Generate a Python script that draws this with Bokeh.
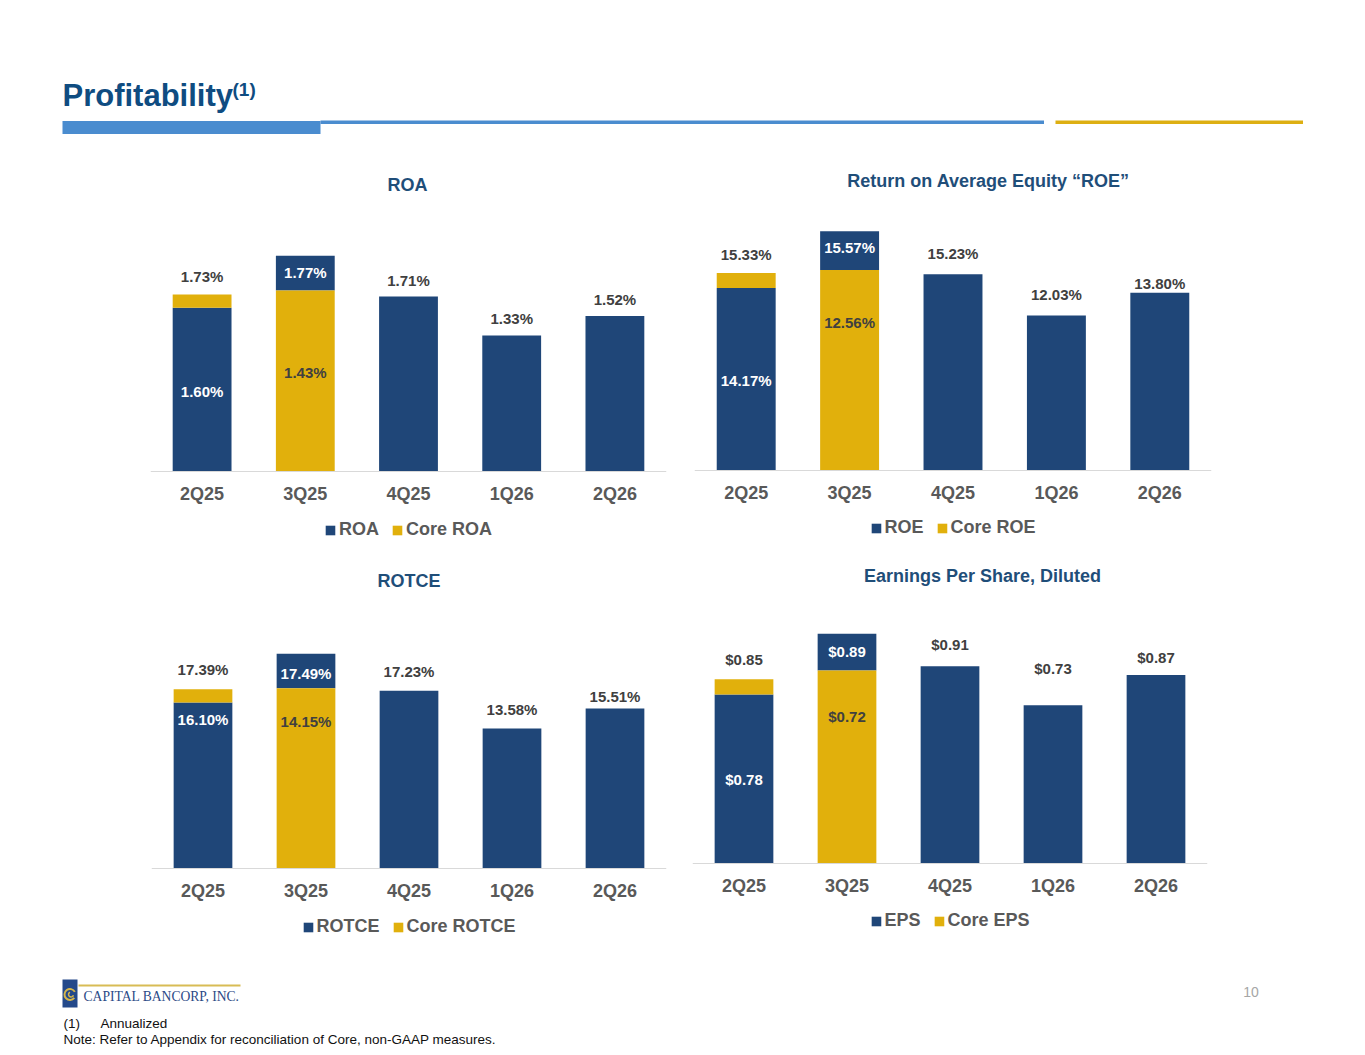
from bokeh.plotting import figure
from bokeh.models import ColumnDataSource, FactorRange, Range1d, Legend, LegendItem
from bokeh.layouts import column, row
from bokeh.embed import file_html
from bokeh.resources import INLINE
from bokeh.core.properties import value

# ---------------- data ----------------
quarters = ["2Q25", "3Q25", "4Q25", "1Q26", "2Q26"]

roa = [1.60, 1.77, 1.71, 1.33, 1.52]
core_roa = [1.73, 1.43, None, None, None]

roe = [14.17, 15.57, 15.23, 12.03, 13.80]
core_roe = [15.33, 12.56, None, None, None]

rotce = [16.10, 17.49, 17.23, 13.58, 15.51]
core_rotce = [17.39, 14.15, None, None, None]

eps = [0.78, 0.89, 0.91, 0.73, 0.87]
core_eps = [0.85, 0.72, None, None, None]

# ---------------- style ----------------
BLUE = "#1F4678"
GOLD = "#E1B00C"
TITLE_BLUE = "#0F4C81"
CHART_TITLE = "#1F4E79"
LIGHT_BLUE = "#4A8CCF"
DARK = "#404040"
AXIS_TXT = "#595959"
SANS = "Liberation Sans"
FONT = value(SANS)


def pct(v):
    return f"{v:.2f}%"


def usd(v):
    return f"${v:.2f}"


def chart(title, main, core, main_name, core_name, fmt, g):
    width = g["fig_right"] - g["fig_left"]
    height = g["fig_bottom"] - g["fig_top"]
    ppu = g["ppu"]
    y_end = (g["baseline"] - g["frame_top"]) / ppu
    y_start = -(g["fig_bottom"] - g["baseline"]) / ppu
    p = figure(width=width, height=height,
               x_range=FactorRange(*quarters), y_range=Range1d(y_start, y_end),
               y_axis_type=None, output_backend="svg", toolbar_location=None,
               min_border_left=g["frame_left"] - g["fig_left"],
               min_border_right=g["fig_right"] - g["frame_right"],
               min_border_top=g["frame_top"] - g["fig_top"],
               min_border_bottom=0)
    p.outline_line_color = None
    p.grid.visible = False
    p.background_fill_color = "white"
    p.border_fill_color = "white"

    bx, bb, bt, gx, gb, gt = [], [], [], [], [], []
    for q, v, c in zip(quarters, main, core):
        if c is None:
            bx.append(q); bb.append(0); bt.append(v)
        elif c > v:
            bx.append(q); bb.append(0); bt.append(v)
            gx.append(q); gb.append(v); gt.append(c)
        else:
            bx.append(q); bb.append(v); bt.append(v + (v - c))
            gx.append(q); gb.append(0); gt.append(v)

    rb = p.vbar(x=bx, bottom=bb, top=bt, width=0.57, fill_color=BLUE, line_color=None)
    rg = p.vbar(x=gx, bottom=gb, top=gt, width=0.57, fill_color=GOLD, line_color=None)

    px = 1.0 / ppu
    lx, ly, lt, lc = [], [], [], []
    for i, (q, v, c) in enumerate(zip(quarters, main, core)):
        if c is None:
            lx.append(q); ly.append(v + g["gaps"][i] * px); lt.append(fmt(v)); lc.append(DARK)
        elif c > v:
            lx.append(q); ly.append(c + g["gaps"][i] * px); lt.append(fmt(c)); lc.append(DARK)
            lx.append(q); ly.append(v - g["main_in"] * px); lt.append(fmt(v)); lc.append("white")
        else:
            top = v + (v - c)
            lx.append(q); ly.append(top - g["top_in"] * px); lt.append(fmt(v)); lc.append("white")
            lx.append(q); ly.append(v - g["core_in"] * px); lt.append(fmt(c)); lc.append(DARK)
    src = ColumnDataSource(dict(x=lx, y=ly, text=lt, color=lc))
    p.text(x="x", y="y", text="text", text_color="color", source=src,
           text_font=FONT, text_font_style="bold", text_font_size="15px",
           text_align="center", text_baseline="middle")

    center = (g["frame_left"] + g["frame_right"]) / 2
    p.text(x=[quarters[2]], y=[(g["baseline"] - g["title_y"]) / ppu], text=[title],
           x_offset=g["title_x"] - center,
           text_font=FONT, text_font_style="bold", text_font_size="18px",
           text_color=CHART_TITLE, text_align="center", text_baseline="middle")

    ax = p.xaxis[0]
    ax.fixed_location = 0
    ax.axis_line_color = "#D9D9D9"
    ax.axis_line_width = 1
    ax.major_tick_line_color = None
    ax.minor_tick_line_color = None
    ax.major_label_text_font = SANS
    ax.major_label_text_font_size = "18px"
    ax.major_label_text_font_style = "bold"
    ax.major_label_text_color = AXIS_TXT
    ax.major_label_standoff = 6

    legend = Legend(items=[LegendItem(label=main_name, renderers=[rb]),
                           LegendItem(label=core_name, renderers=[rg])],
                    orientation="horizontal", location="bottom_center",
                    glyph_width=12, glyph_height=12, label_standoff=3, spacing=12,
                    padding=0, margin=g["legend_margin"], border_line_color=None,
                    background_fill_alpha=0,
                    label_text_font=SANS, label_text_font_size="18px",
                    label_text_font_style="bold", label_text_color=AXIS_TXT)
    p.add_layout(legend)
    return p


g_roa = dict(fig_left=0, fig_right=680, fig_top=160, fig_bottom=555,
             frame_left=150, frame_right=666, frame_top=165, baseline=471, ppu=102.3,
             title_x=407, title_y=184, gaps=[18, None, 16, 17, 17],
             main_in=84, top_in=17, core_in=82, legend_margin=15)
g_roe = dict(fig_left=680, fig_right=1365, fig_top=160, fig_bottom=555,
             frame_left=694, frame_right=1211, frame_top=165, baseline=470, ppu=12.88,
             title_x=988, title_y=180, gaps=[19, None, 21, 21, 9],
             main_in=93, top_in=16, core_in=53, legend_margin=17)
g_rotce = dict(fig_left=0, fig_right=680, fig_top=555, fig_bottom=955,
               frame_left=151, frame_right=666, frame_top=560, baseline=868, ppu=10.31,
               title_x=408.5, title_y=580, gaps=[20, None, 19, 19, 12],
               main_in=17, top_in=20, core_in=33, legend_margin=18)
g_eps = dict(fig_left=680, fig_right=1365, fig_top=555, fig_bottom=955,
             frame_left=692, frame_right=1207, frame_top=560, baseline=863, ppu=216.8,
             title_x=982, title_y=575, gaps=[20, None, 22, 37, 17],
             main_in=85, top_in=18, core_in=46, legend_margin=24)

p_roa = chart("ROA", roa, core_roa, "ROA", "Core ROA", pct, g_roa)
p_roe = chart("Return on Average Equity \u201cROE\u201d", roe, core_roe, "ROE", "Core ROE", pct, g_roe)
p_rotce = chart("ROTCE", rotce, core_rotce, "ROTCE", "Core ROTCE", pct, g_rotce)
p_eps = chart("Earnings Per Share, Diluted", eps, core_eps, "EPS", "Core EPS", usd, g_eps)


def canvas(y0, y1):
    f = figure(width=1365, height=y1 - y0, x_range=Range1d(0, 1365), y_range=Range1d(y1, y0),
               x_axis_type=None, y_axis_type=None, output_backend="svg",
               toolbar_location=None, min_border=0)
    f.outline_line_color = None
    f.grid.visible = False
    return f


# header
hdr = canvas(0, 160)
hdr.text(x=[62], y=[95], text=["Profitability"], text_font=FONT, text_font_style="bold",
         text_font_size="31px", text_color=TITLE_BLUE, text_baseline="alphabetic")
hdr.text(x=[232], y=[89], text=["(1)"], text_font=FONT, text_font_style="bold",
         text_font_size="19px", text_color=TITLE_BLUE, text_baseline="alphabetic")
hdr.quad(left=[62], right=[320], top=[120.5], bottom=[133.5], fill_color=LIGHT_BLUE, line_color=None)
hdr.quad(left=[320], right=[1043.5], top=[120], bottom=[123.5], fill_color=LIGHT_BLUE, line_color=None)
hdr.quad(left=[1055], right=[1302.5], top=[120], bottom=[123.5], fill_color="#DDAF12", line_color=None)

# footer
ftr = canvas(955, 1052)
ftr.quad(left=[62], right=[77], top=[979], bottom=[1007], fill_color="#24498A", line_color=None)
ftr.arc(x=[69.5], y=[994], radius=5.5, start_angle=0.5, end_angle=5.6, line_color="#D6B64A", line_width=2)
ftr.arc(x=[70.5], y=[994], radius=2.5, start_angle=2.0, end_angle=6.0, line_color="#D6B64A", line_width=1.5)
ftr.segment(x0=[78], y0=[985], x1=[240], y1=[985], line_color="#D8BC55", line_width=2)
ftr.text(x=[83], y=[996], text=["CAPITAL BANCORP, INC."], text_font=value("Liberation Serif"),
         text_font_size="13.6px", text_color="#2B4A86", text_baseline="middle")
ftr.text(x=[1250.5], y=[991], text=["10"], text_font=FONT, text_font_size="14px",
         text_color="#A6A6A6", text_align="center", text_baseline="middle")
ftr.text(x=[63], y=[1023], text=["(1)"], text_font=FONT, text_font_size="13.5px",
         text_color="#111111", text_baseline="middle")
ftr.text(x=[100], y=[1023], text=["Annualized"], text_font=FONT, text_font_size="13.5px",
         text_color="#111111", text_baseline="middle")
ftr.text(x=[63], y=[1039], text=["Note: Refer to Appendix for reconciliation of Core, non-GAAP measures."],
         text_font=FONT, text_font_size="13.5px", text_color="#111111", text_baseline="middle")

layout = column(hdr, row(p_roa, p_roe, spacing=0), row(p_rotce, p_eps, spacing=0), ftr, spacing=0)

open("out.html", "w").write(file_html(layout, INLINE))
